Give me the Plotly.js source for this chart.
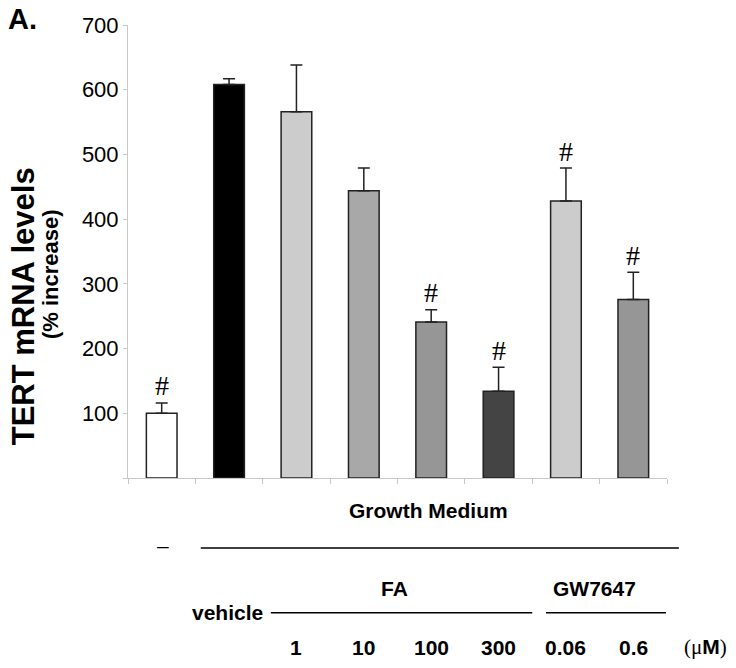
<!DOCTYPE html>
<html>
<head>
<meta charset="utf-8">
<script src="https://cdn.plot.ly/plotly-3.0.1.min.js"></script>
<style>html,body{margin:0;padding:0;background:#fff;}#chart{width:736px;height:668px;}</style>
</head>
<body>
<div id="chart"></div>
<script>
// Data
const categories = ["control", "vehicle", "FA 1", "FA 10", "FA 100", "FA 300", "GW7647 0.06", "GW7647 0.6"];
const values = [100, 608, 566, 444, 241, 134, 428, 276];
const errors = [16, 9, 72, 35, 19, 37, 51, 42];
const significant = [true, false, false, false, true, true, true, true];
const barColors = ["#ffffff", "#000000", "#cccccc", "#a8a8a8", "#969696", "#444444", "#cccccc", "#969696"];
const yTickVals = [0, 100, 200, 300, 400, 500, 600, 700];
const yTickText = ["", "100", "200", "300", "400", "500", "600", "700"];
const doseLabels = ["", "", "1", "10", "100", "300", "0.06", "0.6"];

const idx = categories.map((_, i) => i);
const F = "Liberation Sans, Arial, Helvetica, sans-serif";

const trace = {
  type: "bar",
  x: idx,
  y: values,
  width: 0.455,
  marker: {color: barColors, line: {color: "#222222", width: 1.5}},
  error_y: {type: "data", symmetric: false, array: errors, arrayminus: errors.map(() => 0),
            color: "#222222", thickness: 1.5, width: 6},
  hoverinfo: "skip"
};

const annotations = [];
idx.forEach(i => {
  if (significant[i]) {
    annotations.push({x: i, y: values[i] + errors[i], xref: "x", yref: "y", text: "#",
      showarrow: false, yanchor: "middle", yshift: 17,
      font: {family: "Liberation Serif, Times New Roman, serif", size: 28, color: "#000"}});
  }
  if (doseLabels[i]) {
    annotations.push({x: i, y: -0.374, xref: "x", yref: "paper", text: "<b>" + doseLabels[i] + "</b>",
      showarrow: false, xanchor: "center", yanchor: "middle", font: {family: F, size: 21, color: "#000"}});
  }
});
const txt = (x, y, t, size, extra) => Object.assign({x: x, y: y, xref: "paper", yref: "paper", text: t,
  showarrow: false, xanchor: "center", yanchor: "middle", font: {family: F, size: size, color: "#000"}}, extra || {});
annotations.push(txt(-0.195, 1.013, "<b>A.</b>", 29));
annotations.push(txt(0.558, -0.0728, "<b>Growth Medium</b>", 21));
annotations.push(txt(0.065, -0.150, "–", 21));
annotations.push(txt(0.495, -0.243, "<b>FA</b>", 21));
annotations.push(txt(0.866, -0.243, "<b>GW7647</b>", 21));
annotations.push(txt(0.1846, -0.298, "<b>vehicle</b>", 21));
annotations.push(txt(1.071, -0.374, "<span style='font-family:Liberation Serif;font-weight:normal'>(μ</span><b>M</b><span style='font-family:Liberation Serif'>)</span>", 21));
annotations.push(txt(-0.194, 0.38, "<b>TERT mRNA levels</b>", 31, {textangle: -90}));
annotations.push(txt(-0.145, 0.45, "<b>(% increase)</b>", 22, {textangle: -90}));

const lineShape = (x0, x1, y) => ({type: "line", xref: "paper", yref: "paper", x0: x0, x1: x1, y0: y, y1: y,
  line: {color: "#000", width: 1.5}});

const layout = {
  width: 736, height: 668,
  margin: {l: 128, r: 69, t: 25, b: 190},
  paper_bgcolor: "#fff", plot_bgcolor: "#fff",
  showlegend: false,
  xaxis: {range: [-0.5, 7.5], tickmode: "array", tickvals: [-0.5, 0.5, 1.5, 2.5, 3.5, 4.5, 5.5, 6.5, 7.5],
          showticklabels: false, ticks: "outside", ticklen: 5, tickcolor: "#c8c8c8", tickwidth: 1,
          showline: true, linecolor: "#c8c8c8", linewidth: 1, showgrid: false, zeroline: false, fixedrange: true},
  yaxis: {range: [0, 700], tickmode: "array", tickvals: yTickVals, ticktext: yTickText,
          ticks: "outside", ticklen: 4, tickcolor: "#c8c8c8", tickwidth: 1,
          showline: true, linecolor: "#c8c8c8", linewidth: 1, showgrid: false, zeroline: false,
          tickfont: {family: F, size: 22, color: "#000"}, fixedrange: true},
  annotations: annotations,
  shapes: [lineShape(0.135, 1.022, -0.1545), lineShape(0.265, 0.750, -0.2973), lineShape(0.7755, 0.9981, -0.2973)]
};

Plotly.newPlot("chart", [trace], layout, {staticPlot: true, displayModeBar: false});
</script>
</body>
</html>
